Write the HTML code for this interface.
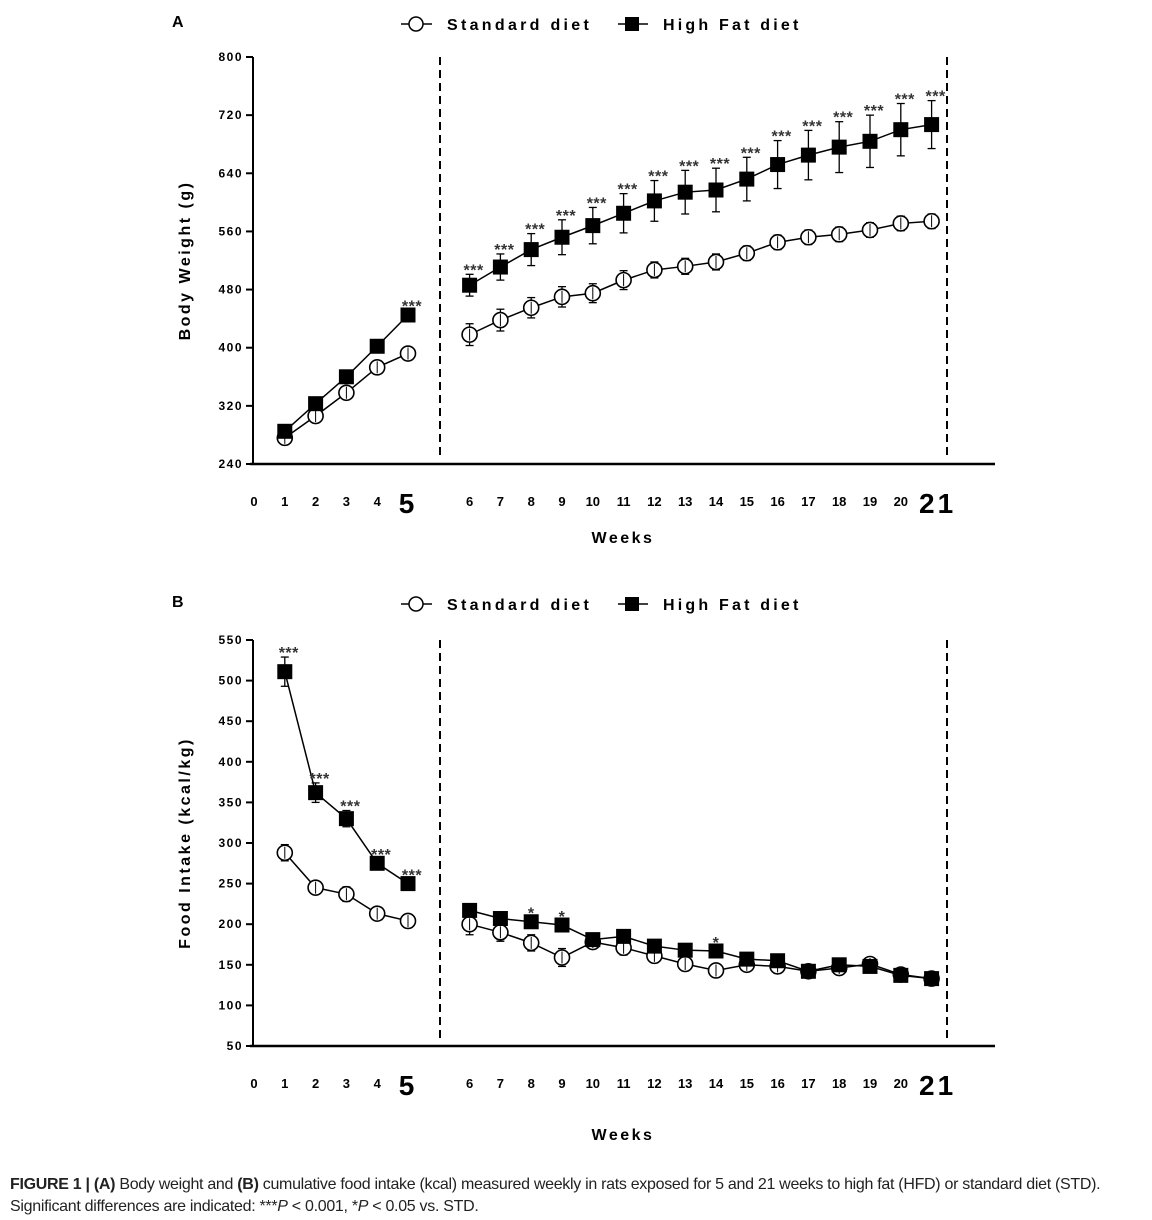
<!DOCTYPE html>
<html><head><meta charset="utf-8">
<style>
body{margin:0;background:#fff;width:1152px;height:1220px;overflow:hidden;font-family:"Liberation Sans",sans-serif}
svg text{font-family:"Liberation Sans",sans-serif}
.cap{position:absolute;left:10px;top:1174px;font-size:16px;line-height:22px;color:#222;letter-spacing:-0.3px;white-space:nowrap}
</style></head>
<body>
<svg id="chart" width="1152" height="1170" style="position:absolute;left:0;top:0"></svg>
<div class="cap"><b>FIGURE 1 | (A)</b> Body weight and <b>(B)</b> cumulative food intake (kcal) measured weekly in rats exposed for 5 and 21 weeks to high fat (HFD) or standard diet (STD).<br>Significant differences are indicated: ***<i>P</i> &lt; 0.001, *<i>P</i> &lt; 0.05 vs. STD.</div>
<script>
const weeks=[1,2,3,4,5,6,7,8,9,10,11,12,13,14,15,16,17,18,19,20,21];
const bwStd=[276,306,338,373,392,418,438,455,470,475,493,507,512,518,530,545,552,556,562,571,574];
const bwStdErr=[4,5,6,6,6,15,15,14,14,13,13,11,11,11,10,10,10,10,10,10,10];
const bwHfd=[285,323,360,402,445,486,511,535,552,568,585,602,614,617,632,652,665,676,684,700,707];
const bwHfdErr=[4,5,5,5,6,15,18,22,24,25,27,28,30,30,30,33,34,35,36,36,33];
const bwStars=["","","","","***","***","***","***","***","***","***","***","***","***","***","***","***","***","***","***","***"];
const fiStd=[288,245,237,213,204,200,190,177,159,178,171,161,151,143,150,148,142,146,151,138,133];
const fiStdErr=[10,5,9,5,5,13,11,10,11,6,9,7,5,8,5,5,4,4,4,4,4];
const fiHfd=[511,362,330,275,250,217,207,203,199,181,185,173,168,167,157,155,142,150,148,137,133];
const fiHfdErr=[18,12,10,5,5,5,5,5,5,5,5,5,5,5,5,5,5,5,5,5,5];
const fiStars=["***","***","***","***","***","","","*","*","","","","","*","","","","","","",""];
const bwTicks=[240,320,400,480,560,640,720,800];
const fiTicks=[50,100,150,200,250,300,350,400,450,500,550];
const xLabels=["0","1","2","3","4","5","6","7","8","9","10","11","12","13","14","15","16","17","18","19","20","21"];

const svg=document.getElementById('chart');
const NS='http://www.w3.org/2000/svg';
function mk(tag,attrs,parent,txt){const e=document.createElementNS(NS,tag);for(const k in attrs)e.setAttribute(k,attrs[k]);if(txt!==undefined)e.textContent=txt;(parent||svg).appendChild(e);return e;}
function xPos(w){const p=w<=5?w:w+1;return 254+30.8*p;}

function panel(o){
  const g=mk('g',{});
  
  
  const y=v=>o.y0+(v-o.vmin)/(o.vmax-o.vmin)*(o.y1-o.y0);
  const L=mk('text',{x:172,y:o.top,'font-size':16,'font-weight':'bold'},g,o.letter);
  
  const lg=mk('g',{},g);
  
  const ly=o.top+3;
  mk('line',{x1:401,x2:432,y1:ly-6,y2:ly-6,stroke:'#000','stroke-width':1.5},lg);
  mk('circle',{cx:416,cy:ly-6,r:7,fill:'#fff',stroke:'#000','stroke-width':1.5},lg);
  mk('text',{x:447,y:ly,'font-size':16,'font-weight':'bold','letter-spacing':3.3},lg,'Standard diet');
  mk('line',{x1:618,x2:648,y1:ly-6,y2:ly-6,stroke:'#000','stroke-width':1.5},lg);
  mk('rect',{x:625,y:ly-13,width:14,height:14,fill:'#000'},lg);
  mk('text',{x:663,y:ly,'font-size':16,'font-weight':'bold','letter-spacing':3.2},lg,'High Fat diet');
  const ax=mk('g',{},g);
  mk('line',{x1:253,x2:253,y1:o.y1,y2:o.y0+1,stroke:'#000','stroke-width':2},ax);
  o.ticks.forEach(t=>{mk('line',{x1:246,x2:253,y1:y(t),y2:y(t),stroke:'#000','stroke-width':2},ax);
    mk('text',{x:243,y:y(t)+4,'font-size':12,'font-weight':'bold','text-anchor':'end','letter-spacing':1.5},ax,String(t));});
  const yt=mk('text',{transform:`translate(190,${(o.y0+o.y1)/2}) rotate(-90)`,'font-size':16,'font-weight':'bold','text-anchor':'middle','letter-spacing':2.5},g,o.ytitle);
  
  const xa=mk('g',{},g);
  mk('line',{x1:250,x2:995,y1:o.y0,y2:o.y0,stroke:'#000','stroke-width':2.5},xa);
  xLabels.forEach((l,i)=>{const big=(l==='5'||l==='21');
    mk('text',{x:i===0?254:xPos(i)+(l==='21'?6:0),y:o.y0+(big?49:42),'font-size':big?28:13,'font-weight':'bold','text-anchor':'middle','letter-spacing':big?3:0},xa,l);});
  const xt=mk('text',{x:623,y:o.xtY,'font-size':16,'font-weight':'bold','text-anchor':'middle','letter-spacing':2.5},g,'Weeks');
  
  [440,947].forEach(x=>{const d=mk('line',{x1:x,x2:x,y1:o.y1,y2:o.y0-4,stroke:'#000','stroke-width':2,'stroke-dasharray':'8,5'},g);
    });
  function series(vals,errs,kind){
    const sg=mk('g',{},g);
    
    
    [[0,5],[5,21]].forEach(([a,b])=>{
      const pts=[];for(let i=a;i<b;i++)pts.push(xPos(weeks[i])+','+y(vals[i]));
      mk('polyline',{points:pts.join(' '),fill:'none',stroke:'#000','stroke-width':1.5},sg);});
    vals.forEach((v,i)=>{const x=xPos(weeks[i]),yy=y(v),e=errs[i];
      const up=y(v+e),dn=y(v-e);
      mk('line',{x1:x,x2:x,y1:up,y2:dn,stroke:'#000','stroke-width':1.3},sg);
      mk('line',{x1:x-4,x2:x+4,y1:up,y2:up,stroke:'#000','stroke-width':1.3},sg);
      mk('line',{x1:x-4,x2:x+4,y1:dn,y2:dn,stroke:'#000','stroke-width':1.3},sg);
      let m;
      if(kind==='c'){m=mk('circle',{cx:x,cy:yy,r:7.5,fill:'#fff',stroke:'#000','stroke-width':1.6},sg);
        mk('line',{x1:x,x2:x,y1:yy-6,y2:yy+6,stroke:'#000','stroke-width':1},sg);}
      else m=mk('rect',{x:x-7.5,y:yy-7.5,width:15,height:15,fill:'#000'},sg);
      
    });
  }
  series(o.std,o.stdE,'c');
  series(o.hfd,o.hfdE,'s');
  o.stars.forEach((s,i)=>{if(!s)return;const x=xPos(weeks[i])+(s==='***'?4:0);
    const t=mk('text',{x:x,y:y(o.hfd[i]+o.hfdE[i])+1,'font-size':16,'font-weight':'bold','text-anchor':'middle','fill':'#333','letter-spacing':0.5},g,s);
    });
}
panel({name:'panel-a-body-weight',letter:'A',top:27,y0:464,y1:57,vmin:240,vmax:800,ticks:bwTicks,ytitle:'Body Weight (g)',xtY:543,
  std:bwStd,stdE:bwStdErr,hfd:bwHfd,hfdE:bwHfdErr,stars:bwStars});
panel({name:'panel-b-food-intake',letter:'B',top:607,y0:1046,y1:640,vmin:50,vmax:550,ticks:fiTicks,ytitle:'Food Intake (kcal/kg)',xtY:1140,
  std:fiStd,stdE:fiStdErr,hfd:fiHfd,hfdE:fiHfdErr,stars:fiStars});
</script>
</body></html>
